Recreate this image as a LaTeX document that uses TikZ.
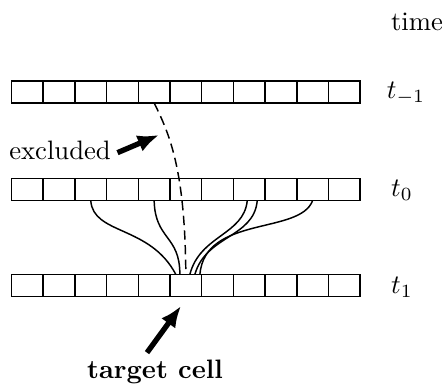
\documentclass[tikz,border=0pt]{standalone}
\usetikzlibrary{arrows.meta,calc}

\begin{document}
\begin{tikzpicture}
		[x=0.375pt,y=-0.375pt,
		cell/.style={draw,line width=0.55pt,minimum width=11.9pt,minimum height=8.25pt,inner sep=0pt,outer sep=0pt},
		link/.style={line width=0.55pt},
		fat/.style={line width=2pt,-{Latex[length=8pt,width=6.5pt]}}]
		\useasboundingbox (0,0) rectangle (445,390);

		% draw the three rows of cells
		\foreach \r/\y in {u/92,m/189.5,b/285.5}{
			\foreach \i in {1,...,11}{
				\node[cell] (\r\i) at ({11.5+31.7*(\i-0.5)},\y) {};
			}
		}

		% time labels
		\node (time) at (417,22) {time};
		\node (tu) at (406,93) {$t_{-1}$};
		\node (tm) at (402,190) {$t_0$};
		\node (tb) at (402,287) {$t_1$};

		% the neighbourhood of the target cell
		\draw [link] (m3.south) .. controls (93,235) and (150,225) .. ($(b6.north)+(-10,0)$);
		\draw [link] (m5.south) .. controls (155,240) and (180,235) .. ($(b6.north)+(-6,0)$);
		\draw [link] ($(m8.south)+(-2,0)$) .. controls (244,235) and (200,235) .. ($(b6.north)+(4,0)$);
		\draw [link] ($(m8.south)+(8,0)$) .. controls (254,238) and (206,235) .. ($(b6.north)+(9,0)$);
		\draw [link] (m10.south) .. controls (300,235) and (205,215) .. ($(b6.north)+(14,0)$);
		\draw [link,dash pattern=on 3.5pt off 2pt] (u5.south) .. controls (170,135) and (185,170) .. (b6.north);

		% the two pointers
		\node (excl) at (60,150) {excluded};
		\coordinate (gap) at (159,135);
		\draw [fat] ([xshift=-1pt,yshift=-1pt]excl.east) -- (gap);

		\node[font=\bfseries] (target) at (155,372) {target cell};
		\coordinate (tcell) at (181,306);
		\draw [fat] ($(target.north)+(-8,2)$) -- (tcell);
	\end{tikzpicture}
\end{document}
